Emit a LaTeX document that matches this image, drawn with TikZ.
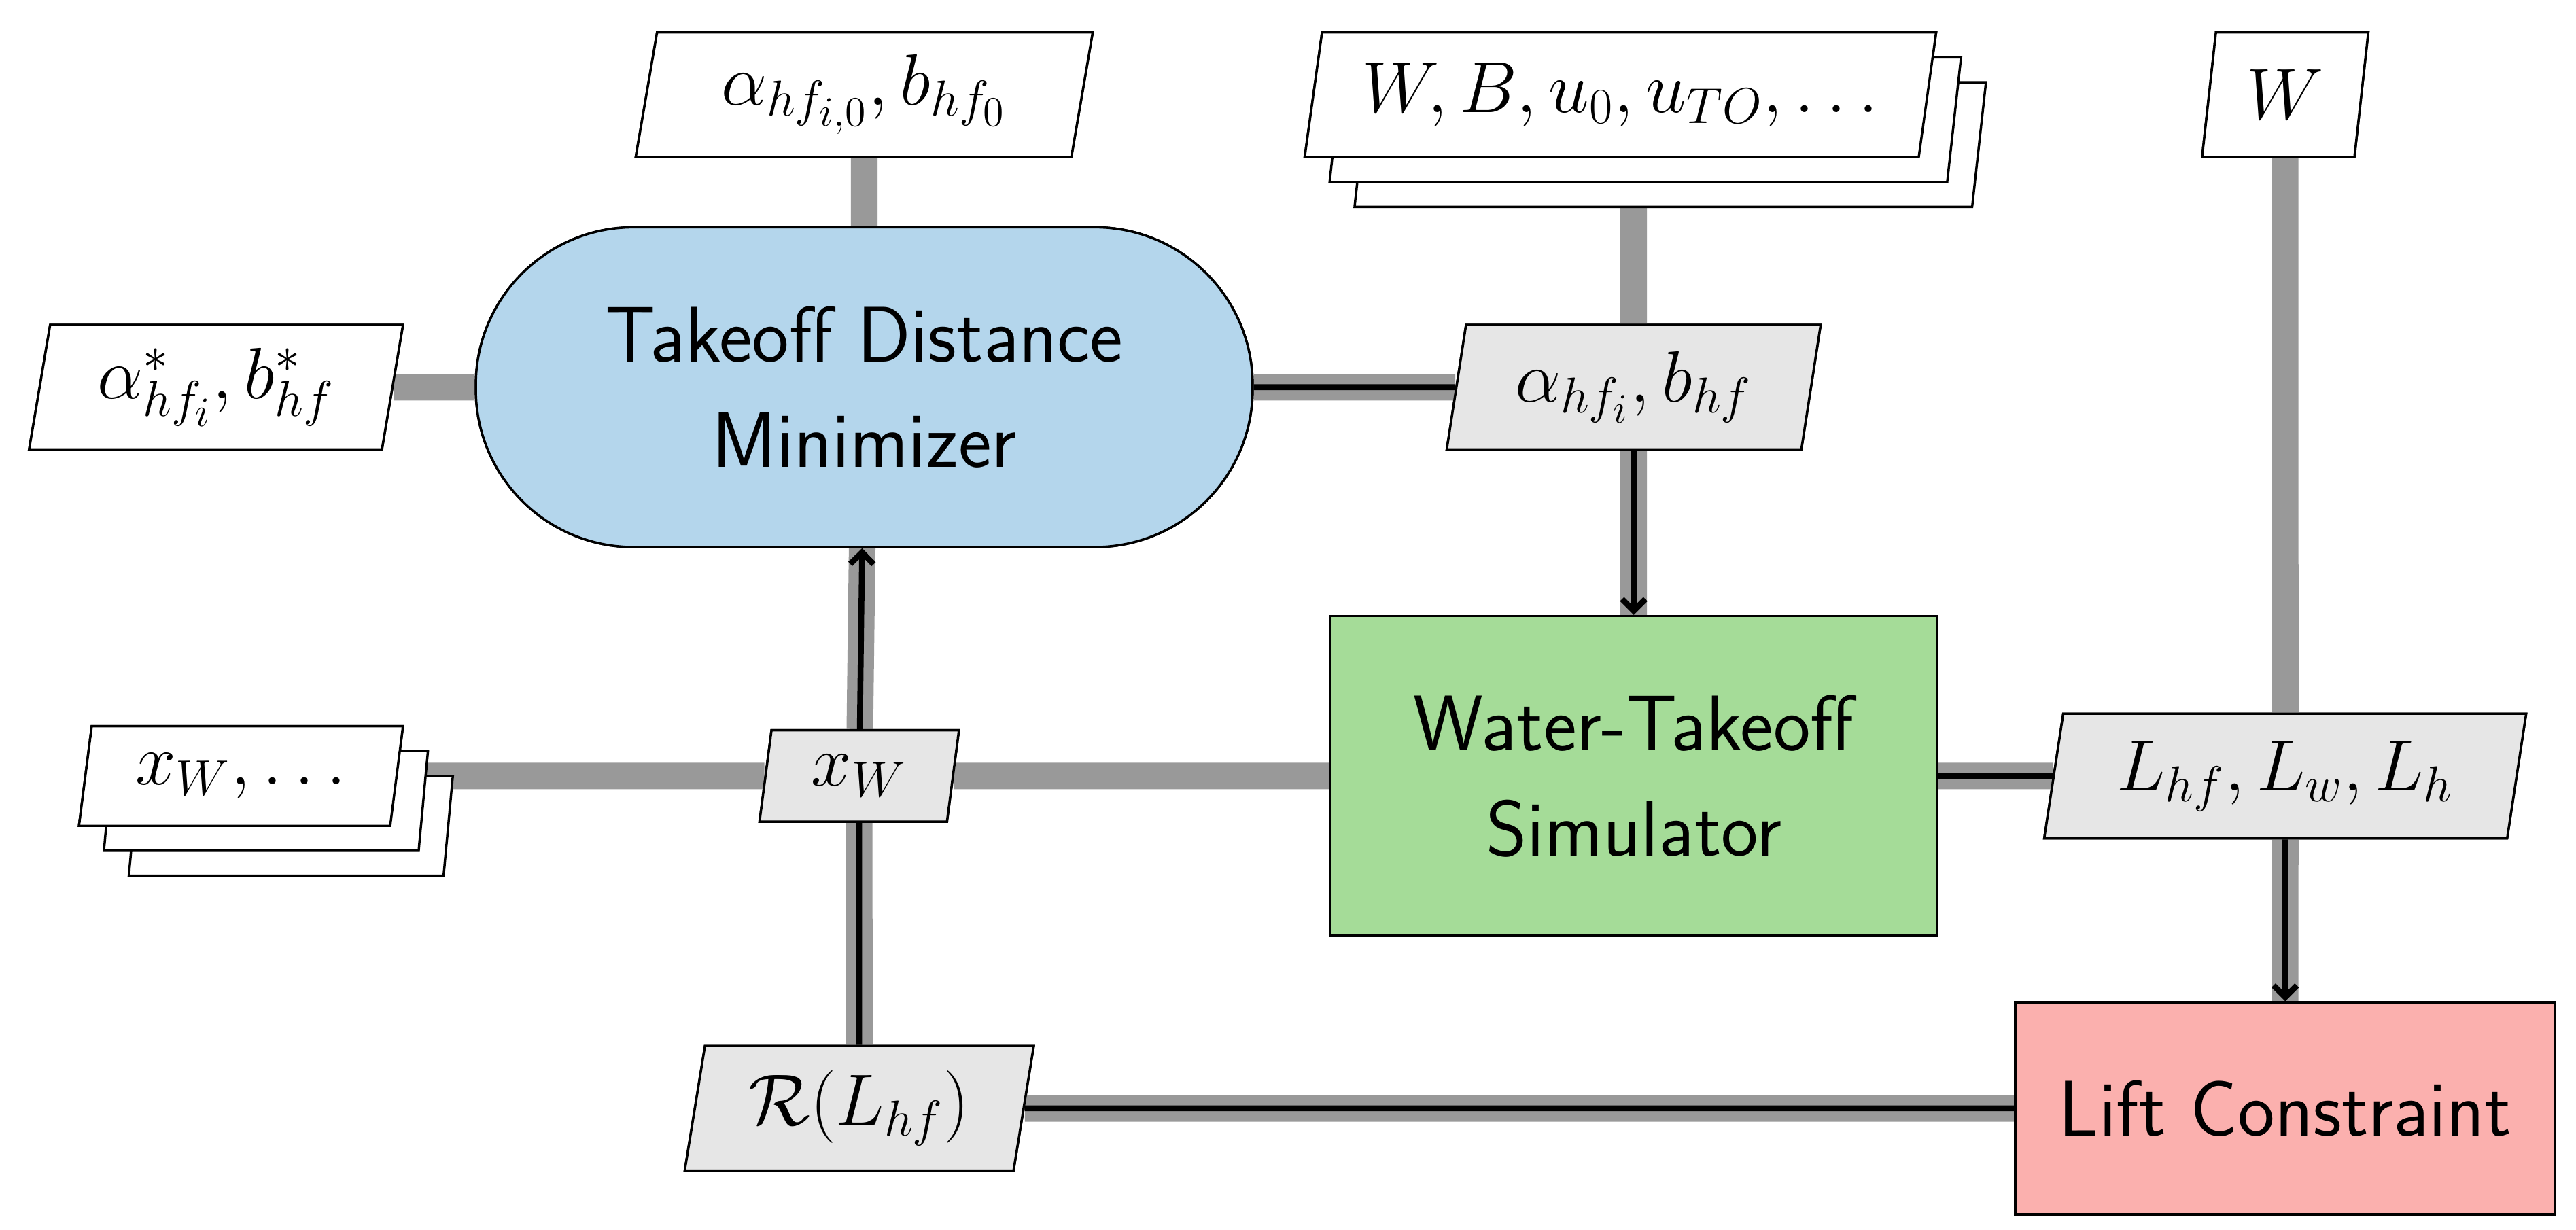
\documentclass[tikz,border=0pt]{standalone}
\usetikzlibrary{shapes.geometric,arrows.meta}
\definecolor{optblue}{HTML}{B4D6EC}
\definecolor{funcgreen}{HTML}{A5DC98}
\definecolor{conred}{HTML}{FBB0AE}
\definecolor{datagray}{HTML}{999999}
\definecolor{varfill}{HTML}{E6E6E6}
\tikzset{
  txt/.style = {font=\fontsize{27}{36}\selectfont\sffamily},
  data/.style = {txt, draw, thick, trapezium, trapezium left angle=76,
                 trapezium right angle=104, trapezium stretches body,
                 minimum height=#1, inner sep=1pt},
  data/.default = 1.5cm,
  var/.style = {data=#1, fill=varfill},
  var/.default = 1.5cm,
  optim/.style = {txt, draw, thick, fill=optblue, rounded corners=1.9cm,
                  minimum width=9.35cm, minimum height=3.85cm, align=center},
  func/.style = {txt, draw, thick, fill=funcgreen, minimum width=7.3cm,
                 minimum height=3.85cm, align=center},
  cons/.style = {txt, draw, thick, fill=conred, minimum width=6.5cm,
                 minimum height=2.55cm},
  dline/.style = {datagray, line width=0.32cm},
  pline/.style = {black, line width=0.07cm},
  parrow/.style = {pline, -{Straight Barb[length=4pt,width=8pt]}}
}
\begin{document}
\begin{tikzpicture}[x=0.02cm, y=-0.02cm]
  \useasboundingbox (0,0) rectangle (1550,740);

  % blocks
  \node[optim] (opt) at (520,233) {Takeoff Distance\\Minimizer};
  \node[func] (sim) at (983,467) {Water-Takeoff\\Simulator};
  \node[cons] (lift) at (1375,667) {Lift Constraint};

  % inputs
  \node[data, minimum width=5.5cm, fill=white] (ain) at (520,57) {$\alpha_{hf_{i,0}}, b_{hf_0}$};
  \node[data, minimum width=7.6cm, fill=white] (win) at (975,57) {$W, B, u_0, u_{TO}, \ldots$};
  \node[data, minimum width=2cm, fill=white] (wtop) at (1375,57) {$W$};
  \node[data=1.2cm, minimum width=3.9cm, fill=white] (xin) at (145,467) {$x_W, \ldots$};
  \node[data, minimum width=4.5cm, fill=white] (aout) at (130,233) {$\alpha^*_{hf_i}, b^*_{hf}$};

  % variables
  \node[var, minimum width=4.5cm] (ahf) at (983,233) {$\alpha_{hf_i}, b_{hf}$};
  \node[var=1.1cm, minimum width=2.4cm] (xw) at (517,467) {$x_W$};
  \node[var, minimum width=5.8cm] (lhf) at (1375,467) {$L_{hf}, L_w, L_h$};
  \node[var, minimum width=4.2cm] (res) at (517,667) {$\mathcal{R}(L_{hf})$};

  % data lines
  \draw[dline] (ain) -- (opt);
  \draw[dline] (ahf) -- (ahf |- win);
  \draw[dline] (ahf) -- (sim);
  \draw[dline] (wtop) -- (lhf);
  \draw[dline] (lhf) -- (lift);
  \draw[dline] (aout) -- (opt);
  \draw[dline] (opt) -- (ahf);
  \draw[dline] (xin) -- (xw);
  \draw[dline] (xw) -- (sim);
  \draw[dline] (sim) -- (lhf);
  \draw[dline] (res) -- (lift);
  \draw[dline] (res) -- (xw);
  \draw[dline] (xw) -- (opt);

  % process lines
  \draw[pline] (opt) -- (ahf);
  \draw[parrow] (ahf) -- (sim);
  \draw[pline] (sim) -- (lhf);
  \draw[parrow] (lhf) -- (lift);
  \draw[pline] (lift) -- (res);
  \draw[pline] (res) -- (xw);
  \draw[parrow] (xw) -- (opt);

  % stacked copies, then nodes on top
  \foreach \k in {2,1}{
    \node[data, minimum width=7.6cm, fill=white] at ([shift={(15*\k,15*\k)}]win) {\phantom{$W$}};
    \node[data=1.2cm, minimum width=3.9cm, fill=white] at ([shift={(15*\k,15*\k)}]xin) {\phantom{$x$}};
  }
  \node[optim] at (opt) {Takeoff Distance\\Minimizer};
  \node[func] at (sim) {Water-Takeoff\\Simulator};
  \node[cons] at (lift) {Lift Constraint};
  \node[data, minimum width=5.5cm, fill=white] at (ain) {$\alpha_{hf_{i,0}}, b_{hf_0}$};
  \node[data, minimum width=7.6cm, fill=white] at (win) {$W, B, u_0, u_{TO}, \ldots$};
  \node[data, minimum width=2cm, fill=white] at (wtop) {$W$};
  \node[data=1.2cm, minimum width=3.9cm, fill=white] at (xin) {$x_W, \ldots$};
  \node[data, minimum width=4.5cm, fill=white] at (aout) {$\alpha^*_{hf_i}, b^*_{hf}$};
  \node[var, minimum width=4.5cm] at (ahf) {$\alpha_{hf_i}, b_{hf}$};
  \node[var=1.1cm, minimum width=2.4cm] at (xw) {$x_W$};
  \node[var, minimum width=5.8cm] at (lhf) {$L_{hf}, L_w, L_h$};
  \node[var, minimum width=4.2cm] at (res) {$\mathcal{R}(L_{hf})$};
\end{tikzpicture}
\end{document}
